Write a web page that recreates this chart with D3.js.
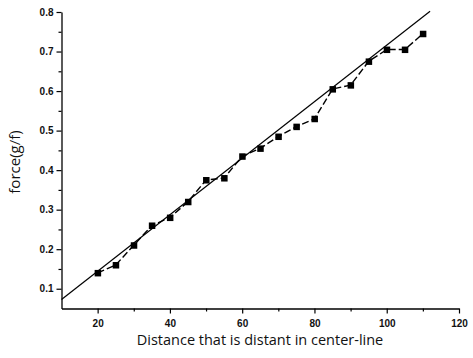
<!DOCTYPE html>
<html lang="en">
<head>
	<meta charset="utf-8">
	<title>force</title>
	<style>
		body { margin: 0; background: #fff; }
		svg { display: block; }
	</style>
</head>
<body>
	<script src="https://cdn.jsdelivr.net/npm/d3@7"></script>
	<script>

		// measured points
		const distance = [20, 25, 30, 35, 40, 45, 50, 55, 60, 65, 70, 75, 80, 85, 90, 95, 100, 105, 110];
		const force = [0.14, 0.16, 0.21, 0.26, 0.28, 0.32, 0.375, 0.38, 0.435, 0.455, 0.485, 0.51, 0.53, 0.605, 0.615, 0.675, 0.705, 0.705, 0.745];

		// fitted straight line (end points)
		const fitX = [10, 112];
		const fitY = [0.073, 0.802];

		const xTicks = [20, 40, 60, 80, 100, 120];
		const yTicks = [0.1, 0.2, 0.3, 0.4, 0.5, 0.6, 0.7, 0.8];

		const width = 473, height = 358;

		const svg = d3.select("body").append("svg")
			.attr("width", width)
			.attr("height", height);

		const x = d3.scaleLinear().domain([10, 120]).range([61.5, 459]);
		const y = d3.scaleLinear().domain([0.05, 0.8]).range([308.5, 12]);

		// axes
		const xAxis = svg.append("g")
			.attr("transform", `translate(0,${y(0.05)})`)
			.call(d3.axisBottom(x).tickValues(xTicks).tickSize(5).tickSizeOuter(0).tickFormat(d3.format("d")));
		svg.append("g")
			.attr("transform", `translate(0,${y(0.05)})`)
			.call(d3.axisBottom(x).tickValues([30, 50, 70, 90, 110]).tickSize(3).tickFormat(""))
			.select(".domain").remove();

		const yAxis = svg.append("g")
			.attr("transform", `translate(${x(10)},0)`)
			.call(d3.axisLeft(y).tickValues(yTicks).tickSize(5).tickSizeOuter(0).tickFormat(d3.format(".1f")));
		svg.append("g")
			.attr("transform", `translate(${x(10)},0)`)
			.call(d3.axisLeft(y).tickValues([0.15, 0.25, 0.35, 0.45, 0.55, 0.65, 0.75]).tickSize(3).tickFormat(""))
			.select(".domain").remove();

		svg.selectAll(".domain").attr("stroke", "#000").attr("stroke-width", 1.3);
		svg.selectAll(".tick line").attr("stroke", "#000").attr("stroke-width", 1.2);
		svg.selectAll(".tick text")
			.attr("font-family", "Liberation Sans, Arial, sans-serif")
			.attr("font-weight", "bold")
			.attr("font-size", 10)
			.attr("fill", "#111");
		xAxis.selectAll(".tick text").attr("dy", "1.05em");

		// fit line
		const fit = fitX.map((d, i) => [d, fitY[i]]);
		svg.append("path")
			.datum(fit)
			.attr("fill", "none")
			.attr("stroke", "#000")
			.attr("stroke-width", 1.2)
			.attr("d", d3.line().x(d => x(d[0])).y(d => y(d[1])));

		// data line
		const pts = distance.map((d, i) => [d, force[i]]);
		svg.append("path")
			.datum(pts)
			.attr("fill", "none")
			.attr("stroke", "#000")
			.attr("stroke-width", 1.4)
			.attr("stroke-dasharray", "7,3")
			.attr("d", d3.line().x(d => x(d[0])).y(d => y(d[1])));

		svg.append("g")
			.selectAll("rect")
			.data(pts)
			.join("rect")
			.attr("x", d => x(d[0]) - 3)
			.attr("y", d => y(d[1]) - 3)
			.attr("width", 6.5)
			.attr("height", 6.5)
			.attr("fill", "#000");

		// labels
		svg.append("text")
			.attr("x", 260)
			.attr("y", 345)
			.attr("text-anchor", "middle")
			.attr("font-family", "Open Sans, sans-serif")
			.attr("font-size", 14.5)
			.attr("fill", "#111")
			.text("Distance that is distant in center-line");

		svg.append("text")
			.attr("transform", "translate(20,162) rotate(-90)")
			.attr("text-anchor", "middle")
			.attr("font-family", "Open Sans, sans-serif")
			.attr("font-size", 15)
			.attr("fill", "#111")
			.text("force(g/f)");

	</script>
</body>
</html>
